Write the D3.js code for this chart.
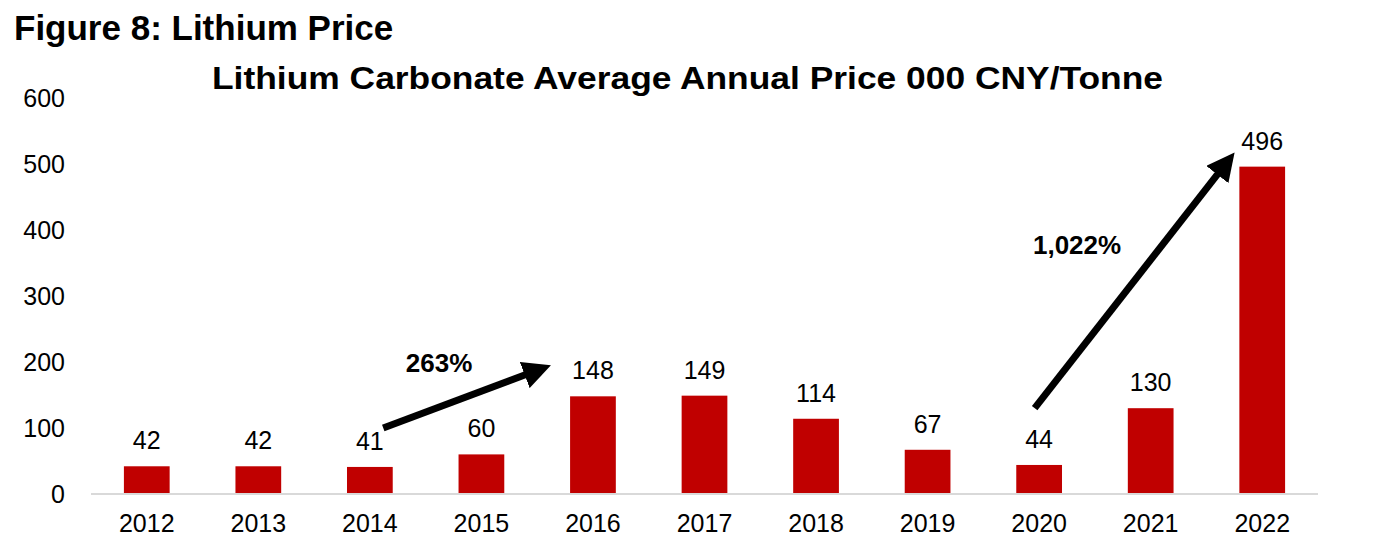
<!DOCTYPE html>
<html>
<head>
<meta charset="utf-8">
<script src="https://cdn.jsdelivr.net/npm/d3@7"></script>
<style>
  body { margin: 0; background: #fff; }
  svg { display: block; font-family: "Liberation Sans", Arial, sans-serif; }
</style>
</head>
<body>
<script>
const years = ["2012", "2013", "2014", "2015", "2016", "2017", "2018", "2019", "2020", "2021", "2022"];
const prices = [42, 42, 41, 60, 148, 149, 114, 67, 44, 130, 496];
const yTicks = [0, 100, 200, 300, 400, 500, 600];

// arrows: [category, band offset, value] for start and end
const arrows = [
  { from: ["2014", 0.12, 100], to: ["2016", -0.38, 195], label: "263%", lx: ["2014", 0.62, 185] },
  { from: ["2020", -0.04, 130], to: ["2022", -0.25, 517], label: "1,022%", lx: ["2020", 0.34, 363] }
];

const W = 1375, H = 553;
const m = { left: 91, right: 57, top: 98, bottom: 59 };

const svg = d3.select("body").append("svg")
  .attr("width", W).attr("height", H);

const x = d3.scaleBand().domain(years)
  .range([m.left, W - m.right]).paddingInner(0.59).paddingOuter(0.295);
const y = d3.scaleLinear().domain([0, 600]).range([H - m.bottom, m.top]);

const px = (c, off) => x(c) + x.bandwidth() / 2 + off * x.step();

// titles
svg.append("text").attr("x", 14).attr("y", 40)
  .attr("font-size", 35).attr("font-weight", "bold").text("Figure 8: Lithium Price");
svg.append("text").attr("x", 212).attr("y", 89)
  .attr("font-size", 32).attr("font-weight", "bold")
  .attr("textLength", 951).attr("lengthAdjust", "spacingAndGlyphs")
  .text("Lithium Carbonate Average Annual Price 000 CNY/Tonne");

// y axis labels
svg.append("g").selectAll("text").data(yTicks).enter().append("text")
  .attr("x", 65).attr("y", d => y(d) + 8.5).attr("text-anchor", "end")
  .attr("font-size", 25).text(d => d);

// bars
svg.append("g").selectAll("rect").data(prices).enter().append("rect")
  .attr("x", (d, i) => x(years[i]))
  .attr("width", x.bandwidth())
  .attr("y", d => y(d))
  .attr("height", d => y(0) - y(d))
  .attr("fill", "#C00000");

// value labels
svg.append("g").selectAll("text").data(prices).enter().append("text")
  .attr("x", (d, i) => x(years[i]) + x.bandwidth() / 2)
  .attr("y", d => y(d) - 17)
  .attr("text-anchor", "middle").attr("font-size", 25).text(d => d);

// x axis
const xAxis = svg.append("g").attr("transform", `translate(0,${y(0)})`)
  .call(d3.axisBottom(x).tickSize(0));
xAxis.select(".domain").attr("stroke", "#d9d9d9").attr("stroke-width", 2)
  .attr("d", `M${m.left},0H${W - m.right}`);
xAxis.selectAll("text").attr("y", 38).attr("dy", null)
  .attr("font-size", 25).attr("fill", "#000")
  .attr("font-family", "Liberation Sans, Arial, sans-serif");

// arrows
svg.append("defs").append("marker")
  .attr("id", "head").attr("viewBox", "0 0 10 10")
  .attr("refX", 2).attr("refY", 5)
  .attr("markerWidth", 4).attr("markerHeight", 4)
  .attr("orient", "auto")
  .append("path").attr("d", "M0,0L10,5L0,10z").attr("fill", "#000");

arrows.forEach(a => {
  const x1 = px(a.from[0], a.from[1]), y1 = y(a.from[2]);
  const x2 = px(a.to[0], a.to[1]), y2 = y(a.to[2]);
  // shorten so the head tip ends at the target
  const len = Math.hypot(x2 - x1, y2 - y1), hl = 22;
  const ex = x2 - (x2 - x1) / len * hl, ey = y2 - (y2 - y1) / len * hl;
  svg.append("line")
    .attr("x1", x1).attr("y1", y1).attr("x2", ex).attr("y2", ey)
    .attr("stroke", "#000").attr("stroke-width", 7)
    .attr("marker-end", "url(#head)");
  svg.append("text")
    .attr("x", px(a.lx[0], a.lx[1])).attr("y", y(a.lx[2]))
    .attr("text-anchor", "middle").attr("font-size", 26).attr("font-weight", "bold")
    .text(a.label);
});
</script>
</body>
</html>
